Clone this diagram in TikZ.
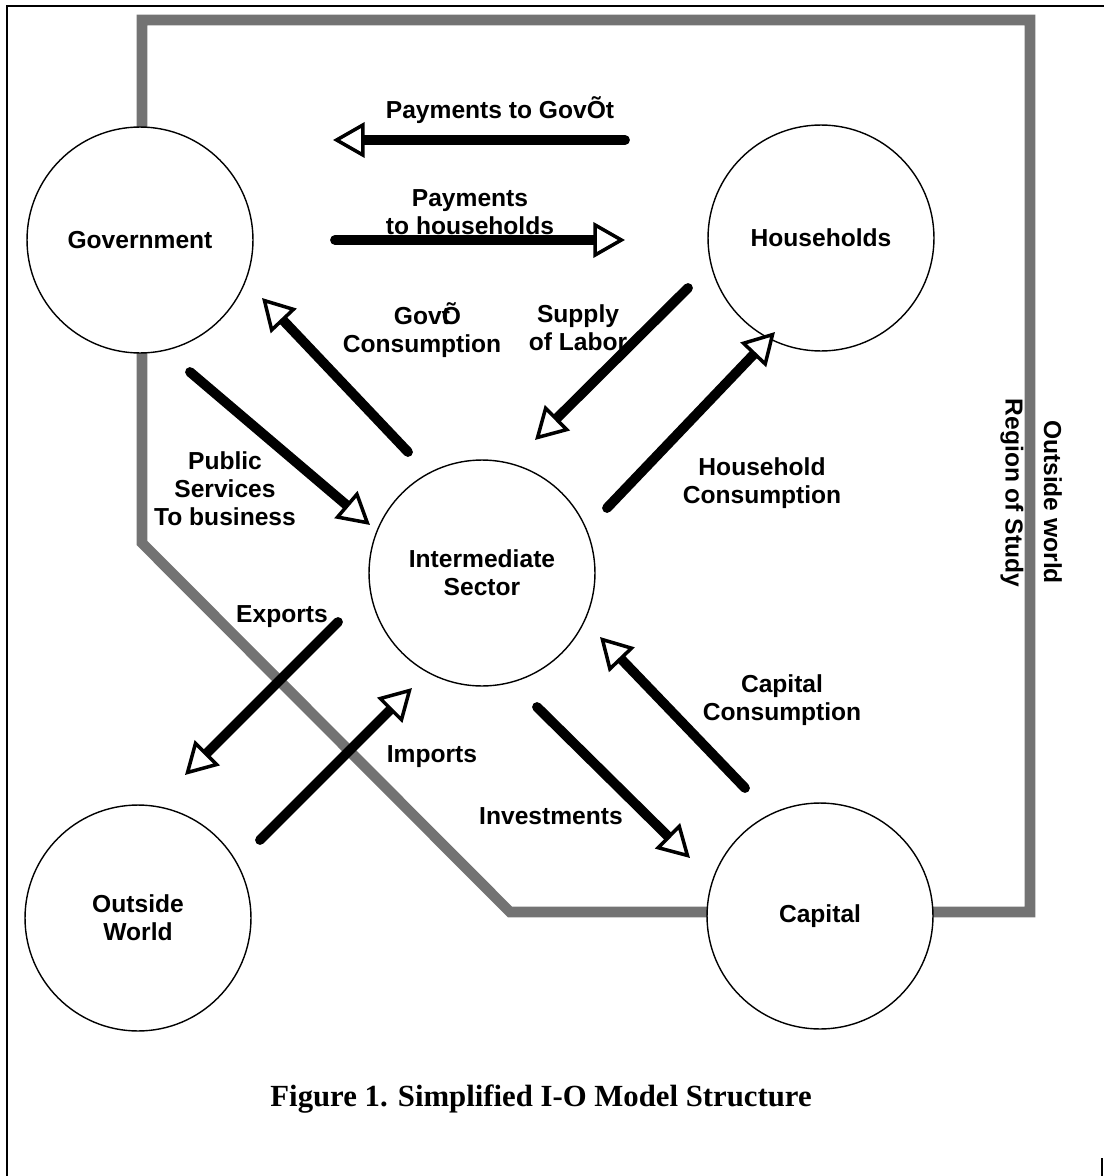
\documentclass[tikz,border=0pt]{standalone}
\usepackage{fontspec}
\setmainfont{Liberation Serif}
\setsansfont{Liberation Sans}
\usetikzlibrary{arrows.meta}

\tikzset{
    sector/.style={circle, draw, line width=0.8pt, fill=white, minimum size=4.52cm,
        inner sep=0pt, align=center, font=\sffamily\bfseries\fontsize{14}{16}\selectfont},
    lbl/.style={align=center, inner sep=0pt, font=\sffamily\bfseries\fontsize{14}{16}\selectfont},
    flow/.style={line width=5.6pt, line cap=round,
        -{Triangle[open, fill=white, length=18pt, width=20pt, line width=2pt]}},
    region/.style={line width=6pt, black!55},
}

\begin{document}
\begin{tikzpicture}[x=0.02cm, y=-0.02cm]
% Page
\useasboundingbox (0,0) rectangle (1104,1176);
\draw[line width=1.1pt] (7,1176) -- (7,6) -- (1104,6);
\draw[line width=1.1pt] (1102,1158) -- (1102,1176);

% Region of study
\draw[region] (142,543) -- (142,20) -- (1030,20) -- (1030,912) -- (510,912) -- cycle;

% Sectors
\node[sector] (gov) at (140,240) {Government};
\node[sector] (hh) at (821,238) {Households};
\node[sector] (inter) at (482,573) {Intermediate\\Sector};
\node[sector] (world) at (138,918) {Outside\\World};
\node[sector] (cap) at (820,916) {Capital};

% Arrow ends
\coordinate (pg-a) at (625,140); \coordinate (pg-b) at (333,140);
\coordinate (ph-a) at (335,240); \coordinate (ph-b) at (625,240);
\coordinate (gc-a) at (408,452); \coordinate (gc-b) at (262,298);
\coordinate (sl-a) at (688,288); \coordinate (sl-b) at (535,440);
\coordinate (ps-a) at (190,372); \coordinate (ps-b) at (370,525);
\coordinate (hc-a) at (607,508); \coordinate (hc-b) at (775,332);
\coordinate (ex-a) at (338,622); \coordinate (ex-b) at (185,775);
\coordinate (im-a) at (260,840); \coordinate (im-b) at (412,688);
\coordinate (iv-a) at (537,707); \coordinate (iv-b) at (690,858);
\coordinate (cc-a) at (745,788); \coordinate (cc-b) at (600,637);

% Labels
\node[lbl] (pg-lbl) at (500,110) {Payments to GovÕt};
\node[lbl] (ph-lbl) at (470,212) {Payments\\to households};
\node[lbl] (gc-lbl) at (422,330) {Gov\rlap{Õ}t\\Consumption};
\node[lbl] (sl-lbl) at (578,328) {Supply\\of Labor};
\node[lbl] (ps-lbl) at (225,489) {Public\\Services\\To business};
\node[lbl] (hc-lbl) at (762,483) {Household\\Consumption};
\node[lbl] (ex-lbl) at (282,617) {Exports};
\node[lbl] (im-lbl) at (432,757) {Imports};
\node[lbl] (iv-lbl) at (551,816) {Investments};
\node[lbl] (cc-lbl) at (782,700) {Capital\\Consumption};
\node[lbl, rotate=-90] (out-lbl) at (1053,502) {Outside world};
\node[lbl, rotate=-90] (reg-lbl) at (1012,493) {Region of Study};

% Flows
\draw[flow] (pg-a) -- (pg-b);
\draw[flow] (ph-a) -- (ph-b);
\draw[flow] (gc-a) -- (gc-b);
\draw[flow] (sl-a) -- (sl-b);
\draw[flow] (ps-a) -- (ps-b);
\draw[flow] (hc-a) -- (hc-b);
\draw[flow] (ex-a) -- (ex-b);
\draw[flow] (im-a) -- (im-b);
\draw[flow] (iv-a) -- (iv-b);
\draw[flow] (cc-a) -- (cc-b);

% Caption
\node[font=\bfseries\fontsize{17.5}{20}\selectfont] (title) at (541,1099) {Figure 1. Simplified I-O Model Structure};
\end{tikzpicture}
\end{document}
